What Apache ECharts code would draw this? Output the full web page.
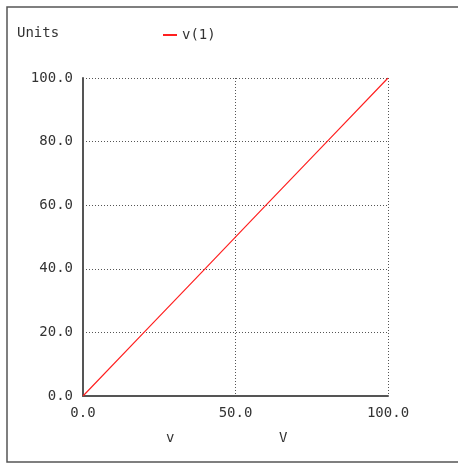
<!DOCTYPE html>
<html>
<head>
<meta charset="utf-8">
<script src="https://cdn.jsdelivr.net/npm/echarts@6/dist/echarts.min.js"></script>
<style>
  html, body { margin: 0; padding: 0; background: #fff; }
  #chart { width: 458px; height: 464px; }
</style>
</head>
<body>
<div id="chart"></div>
<script>
// sweep values
const sweepV = [0, 20, 40, 60, 80, 100]
const nodeV1 = [0, 20, 40, 60, 80, 100]
const seriesName = 'v(1)'
const yTicks = { min: 0, max: 100, interval: 20 }
const xTicks = { min: 0, max: 100, interval: 50 }

const font = 'DejaVu Sans Mono'
const fs = 14
const chart = echarts.init(document.getElementById('chart'))

const option = {
  animation: false,
  backgroundColor: '#fff',
  textStyle: { fontFamily: font },
  grid: { left: 83, top: 78, width: 305, height: 318, containLabel: false },
  legend: {
    left: 158,
    top: 23,
    itemWidth: 14,
    itemHeight: 2,
    itemGap: 8,
    icon: 'rect',
    textStyle: { fontFamily: font, fontSize: fs, color: '#333' },
    data: [seriesName]
  },
  graphic: [
    {
      type: 'rect',
      shape: { x: 7, y: 7, width: 460, height: 455 },
      style: { fill: 'none', stroke: '#555', lineWidth: 1.5 }
    },
    {
      type: 'text', left: 17, top: 26,
      style: { text: 'Units', font: fs + 'px ' + font, fill: '#333' }
    },
    {
      type: 'text', left: 166, top: 431,
      style: { text: 'v', font: fs + 'px ' + font, fill: '#333' }
    },
    {
      type: 'text', left: 279, top: 431,
      style: { text: 'V', font: fs + 'px ' + font, fill: '#333' }
    }
  ],
  xAxis: {
    type: 'value',
    min: xTicks.min, max: xTicks.max, interval: xTicks.interval,
    axisLine: { show: true, lineStyle: { color: '#555', width: 2 } },
    axisTick: { show: false },
    axisLabel: {
      color: '#333', fontFamily: font, fontSize: fs, margin: 10,
      formatter: v => v.toFixed(1)
    },
    splitLine: { show: true, lineStyle: { color: '#555', type: [1, 2], width: 1 } }
  },
  yAxis: {
    type: 'value',
    min: yTicks.min, max: yTicks.max, interval: yTicks.interval,
    axisLine: { show: true, lineStyle: { color: '#555', width: 2 } },
    axisTick: { show: false },
    axisLabel: {
      color: '#333', fontFamily: font, fontSize: fs, margin: 10,
      formatter: v => v.toFixed(1)
    },
    splitLine: { show: true, lineStyle: { color: '#555', type: [1, 2], width: 1 } }
  },
  series: [
    {
      name: seriesName,
      type: 'line',
      data: sweepV.map((x, i) => [x, nodeV1[i]]),
      showSymbol: false,
      lineStyle: { color: '#ff2020', width: 1.2 },
      itemStyle: { color: '#ff2020' }
    }
  ]
}

chart.setOption(option)
</script>
</body>
</html>
